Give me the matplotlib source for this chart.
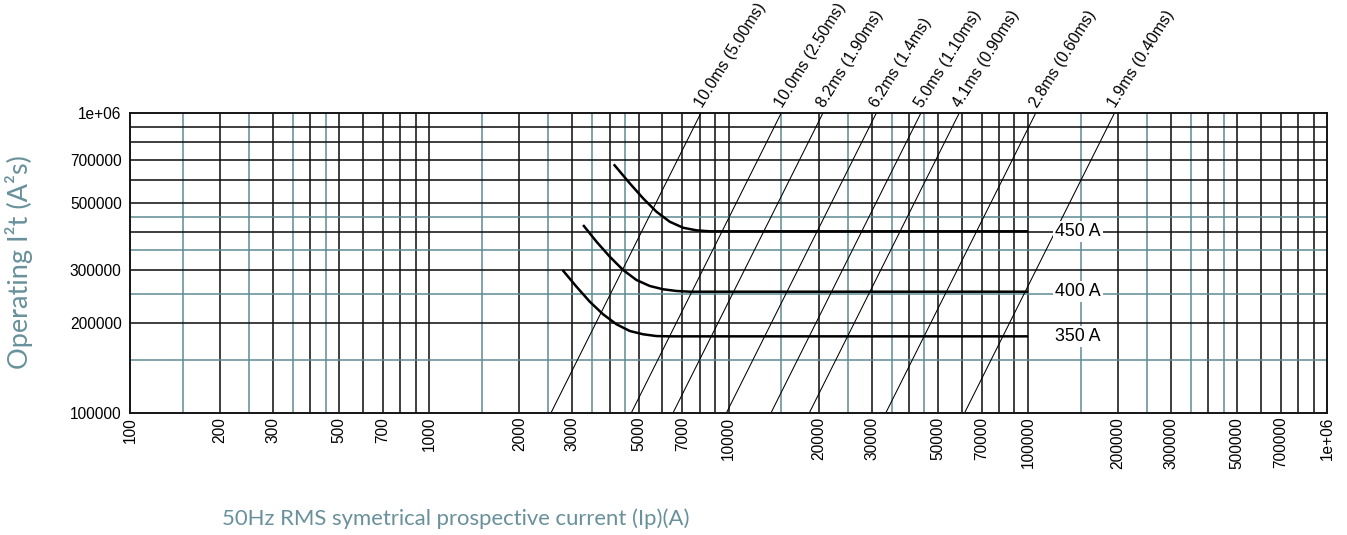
import numpy as np
import matplotlib.pyplot as plt

# values
x_tick_values = [100, 200, 300, 500, 700, 1000, 2000, 3000, 5000, 7000, 10000,
                 20000, 30000, 50000, 70000, 100000, 200000, 300000, 500000,
                 700000, 1000000]
x_tick_labels = [str(v) for v in x_tick_values[:-1]] + ['1e+06']
y_tick_values = [100000, 200000, 300000, 500000, 700000, 1000000]
y_tick_labels = ['100000', '200000', '300000', '500000', '700000', '1e+06']

# constant-time lines: current (A) where each one crosses I2t = 100000
time_labels = ['10.0ms (5.00ms)', '10.0ms (2.50ms)', '8.2ms (1.90ms)',
               '6.2ms (1.4ms)', '5.0ms (1.10ms)', '4.1ms (0.90ms)',
               '2.8ms (0.60ms)', '1.9ms (0.40ms)']
time_cross_current = [2550, 4730, 6520, 9830, 13850, 18600, 33500, 61400]

# fuse operating curves
fuse_labels = ['350 A', '400 A', '450 A']
current_350 = [2785, 3100, 3435, 3804, 4217, 4671, 5175, 5735, 6353, 100000]
i2t_350 = [299700, 263600, 234800, 213200, 197400, 187500, 182800, 180300,
           179900, 179900]
current_400 = [3262, 3617, 4006, 4437, 4918, 5448, 6034, 6690, 7411, 100000]
i2t_400 = [423600, 372500, 331900, 299700, 277500, 265000, 258400, 255000,
           253600, 253600]
current_450 = [4130, 4671, 5175, 5735, 6353, 7038, 7801, 8643, 100000]
i2t_450 = [675600, 583700, 520100, 469200, 434400, 414800, 406600, 403500,
           403500]

teal = '#5e8b95'
dark = '#141414'
title_color = '#68919b'

fig = plt.figure(figsize=(13.47, 5.35), dpi=100)
ax = fig.add_axes([0.0965, 0.2286, 0.889, 0.5596])
ax.set_xscale('log')
ax.set_yscale('log')
ax.set_xlim(100, 1e6)
ax.set_ylim(1e5, 1e6)

# grid: black at 2..10 of each decade, teal at 1.5/2.5/3.5/4.5
for dec in [100, 1000, 10000, 100000]:
    for m in range(2, 10):
        ax.axvline(m * dec, color=dark, lw=1.15, zorder=1)
    if dec < 100000:
        ax.axvline(10 * dec, color=dark, lw=1.15, zorder=1)
    for m in [1.5, 2.5, 3.5, 4.5]:
        ax.axvline(m * dec, color=teal, lw=1.1, zorder=1)
for m in range(2, 10):
    ax.axhline(m * 100000, color=dark, lw=1.15, zorder=1)
for m in [1.5, 2.5, 3.5, 4.5]:
    ax.axhline(m * 100000, color=teal, lw=1.1, zorder=1)

# constant-time lines (slope 2 on log-log)
for lab, xb in zip(time_labels, time_cross_current):
    xs = np.array([xb, xb * np.sqrt(10)])
    ax.plot(xs, 1e5 * (xs / xb) ** 2, color='black', lw=0.75, zorder=2)
    ax.annotate(lab, xy=(xs[-1], 1e6), xytext=(1, 3.5),
                textcoords='offset points', rotation=58,
                rotation_mode='anchor', ha='left', va='baseline',
                fontsize=11.5, family='Liberation Sans', annotation_clip=False)

curves = [(current_350, i2t_350), (current_400, i2t_400), (current_450, i2t_450)]
for (cx, cy), lab in zip(curves, fuse_labels):
    ax.plot(cx, cy, color='black', lw=1.8, zorder=3, solid_capstyle='butt')
    ax.text(123000, cy[-1], lab, fontsize=12.8, family='Liberation Sans',
            ha='left', va='center', zorder=5,
            bbox=dict(fc='white', ec='none', pad=1.5))

for side in ['left', 'bottom', 'right', 'top']:
    ax.spines[side].set_color(dark)
    ax.spines[side].set_linewidth(1.4)
    ax.spines[side].set_zorder(4)

ax.set_xticks(x_tick_values)
ax.set_xticklabels(x_tick_labels, rotation=90, fontsize=11.2,
                   family='Liberation Sans')
ax.set_yticks(y_tick_values)
ax.set_yticklabels(y_tick_labels, fontsize=11.2, family='Liberation Sans')
ax.xaxis.set_minor_locator(plt.NullLocator())
ax.yaxis.set_minor_locator(plt.NullLocator())
ax.tick_params(axis='x', length=0, pad=3)
ax.tick_params(axis='y', length=0, pad=6)

fig.text(0.0141, 0.511, 'Operating I²t (A²s)', rotation=90, ha='center',
         va='center', fontsize=19.5, family='Lato', color=title_color)
fig.text(0.165, 0.030, '50Hz RMS symetrical prospective current (Ip)(A)',
         ha='left', va='center', fontsize=15.9, family='Lato',
         color=title_color)

fig.savefig('out.png', dpi=100)
